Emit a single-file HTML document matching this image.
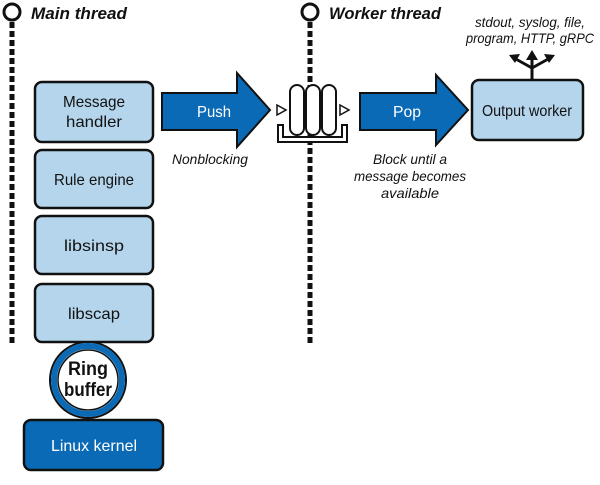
<!DOCTYPE html>
<html><head><style>
body{margin:0;background:#fff;}
svg text{font-family:"Liberation Sans",sans-serif;}
</style></head><body>
<svg width="600" height="480" viewBox="0 0 600 480" xmlns="http://www.w3.org/2000/svg">
<line x1="12" y1="22" x2="12" y2="345" stroke="#111" stroke-width="5" stroke-dasharray="6,3"/>
<circle cx="12" cy="12" r="8" fill="#fff" stroke="#111" stroke-width="3"/>
<line x1="310" y1="22" x2="310" y2="345" stroke="#111" stroke-width="5" stroke-dasharray="6,3"/>
<circle cx="310" cy="12" r="8" fill="#fff" stroke="#111" stroke-width="3"/>
<text x="31" y="19" font-size="17" font-style="italic" font-weight="bold" fill="#111" textLength="96" lengthAdjust="spacingAndGlyphs">Main thread</text>
<text x="329" y="19" font-size="17" font-style="italic" font-weight="bold" fill="#111" textLength="112" lengthAdjust="spacingAndGlyphs">Worker thread</text>
<g fill="#b4d5ec" stroke="#111" stroke-width="2.5">
<rect x="35" y="82" width="118" height="60" rx="7"/>
<rect x="35" y="150" width="118" height="58" rx="7"/>
<rect x="35" y="216" width="118" height="58" rx="7"/>
<rect x="35" y="284" width="118" height="58" rx="7"/>
</g>
<g font-size="16" fill="#111" text-anchor="middle">
<text x="94" y="107" textLength="62" lengthAdjust="spacingAndGlyphs">Message</text>
<text x="94" y="127" textLength="56" lengthAdjust="spacingAndGlyphs">handler</text>
<text x="94" y="185" textLength="80" lengthAdjust="spacingAndGlyphs">Rule engine</text>
<text x="94" y="251" textLength="60" lengthAdjust="spacingAndGlyphs">libsinsp</text>
<text x="94" y="319" textLength="52" lengthAdjust="spacingAndGlyphs">libscap</text>
</g>
<rect x="24" y="420" width="139" height="50" rx="7" fill="#0b6ab5" stroke="#111" stroke-width="2.5"/>
<text x="94" y="451" font-size="16" fill="#fff" text-anchor="middle" textLength="86" lengthAdjust="spacingAndGlyphs">Linux kernel</text>
<circle cx="88" cy="380" r="38" fill="#fff" stroke="#111" stroke-width="2"/>
<circle cx="88" cy="380" r="34" fill="none" stroke="#0b6ab5" stroke-width="6"/>
<circle cx="88" cy="380" r="30" fill="#fff" stroke="#111" stroke-width="1.5"/>
<text x="88" y="375" font-size="19" font-weight="bold" fill="#111" text-anchor="middle" textLength="40" lengthAdjust="spacingAndGlyphs">Ring</text>
<text x="88" y="396" font-size="19" font-weight="bold" fill="#111" text-anchor="middle" textLength="48" lengthAdjust="spacingAndGlyphs">buffer</text>
<polygon points="162,93 237,93 237,73 270,110 237,147 237,130 162,130" fill="#0b6ab5" stroke="#111" stroke-width="2"/>
<text x="214" y="117" font-size="16" fill="#fff" text-anchor="middle" textLength="34" lengthAdjust="spacingAndGlyphs">Push</text>
<text x="210" y="164" font-size="14" font-style="italic" fill="#111" text-anchor="middle" textLength="76" lengthAdjust="spacingAndGlyphs">Nonblocking</text>
<polygon points="360,93 436,93 436,75 468,110 436,145 436,130 360,130" fill="#0b6ab5" stroke="#111" stroke-width="2"/>
<text x="407" y="117" font-size="16" fill="#fff" text-anchor="middle" textLength="28" lengthAdjust="spacingAndGlyphs">Pop</text>
<g font-size="14" font-style="italic" fill="#111" text-anchor="middle">
<text x="410" y="164" textLength="74" lengthAdjust="spacingAndGlyphs">Block until a</text>
<text x="410" y="181" textLength="112" lengthAdjust="spacingAndGlyphs">message becomes</text>
<text x="410" y="198" textLength="58" lengthAdjust="spacingAndGlyphs">available</text>
</g>
<path d="M278,125 L278,142 L347,142 L347,125 L342,125 L342,137 L283,137 L283,125 Z" fill="#fff" stroke="#111" stroke-width="2"/>
<rect x="290" y="85" width="14" height="50" rx="7" fill="#fff" stroke="#111" stroke-width="2"/>
<rect x="306" y="85" width="14" height="50" rx="7" fill="#fff" stroke="#111" stroke-width="2"/>
<rect x="322" y="85" width="14" height="50" rx="7" fill="#fff" stroke="#111" stroke-width="2"/>
<polygon points="277,105 277,115 286,110" fill="#fff" stroke="#111" stroke-width="1.5"/>
<polygon points="340,105 340,115 349,110" fill="#fff" stroke="#111" stroke-width="1.5"/>
<rect x="472" y="80" width="111" height="60" rx="7" fill="#b4d5ec" stroke="#111" stroke-width="2.5"/>
<text x="527" y="116" font-size="16" fill="#111" text-anchor="middle" textLength="90" lengthAdjust="spacingAndGlyphs">Output worker</text>
<g stroke="#111" stroke-width="3" fill="none">
<line x1="532" y1="80" x2="532" y2="56"/>
<line x1="532" y1="68" x2="514" y2="58"/>
<line x1="532" y1="68" x2="550" y2="58"/>
</g>
<g fill="#111">
<polygon points="532,50 526,60 538,60"/>
<polygon points="509,55 520,54 515,63"/>
<polygon points="555,55 544,54 549,63"/>
</g>
<g font-size="14" font-style="italic" fill="#111" text-anchor="middle">
<text x="530" y="27" textLength="110" lengthAdjust="spacingAndGlyphs">stdout, syslog, file,</text>
<text x="530" y="43" textLength="128" lengthAdjust="spacingAndGlyphs">program, HTTP, gRPC</text>
</g>
</svg>
</body></html>
